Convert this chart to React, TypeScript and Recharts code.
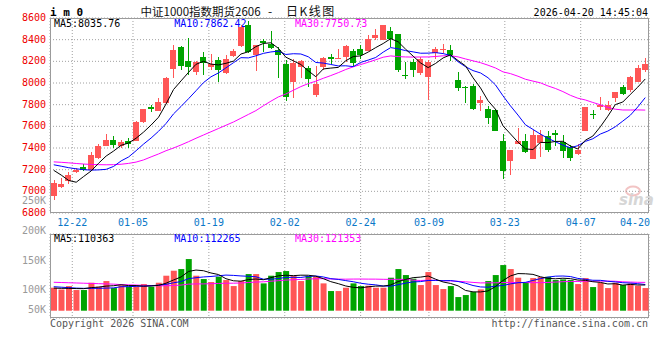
import React from 'react';
import { ComposedChart, Bar, Line, XAxis, YAxis, CartesianGrid, Cell } from 'recharts';

const dates = [
  '12-17', '12-18', '12-19', '12-22', '12-23', '12-24', '12-25', '12-26', '12-29', '12-30', '12-31',
  '01-05', '01-06', '01-07', '01-08', '01-09', '01-12', '01-13', '01-14', '01-15', '01-16',
  '01-19', '01-20', '01-21', '01-22', '01-23', '01-26', '01-27', '01-28', '01-29', '01-30',
  '02-02', '02-03', '02-04', '02-05', '02-06', '02-09', '02-10', '02-11', '02-12', '02-13',
  '02-24', '02-25', '02-26', '02-27', '03-02', '03-03', '03-04', '03-05', '03-06',
  '03-09', '03-10', '03-11', '03-12', '03-13', '03-16', '03-17', '03-18', '03-19', '03-20',
  '03-23', '03-24', '03-25', '03-26', '03-27', '03-30', '03-31', '04-01', '04-02', '04-03',
  '04-07', '04-08', '04-09', '04-10', '04-13', '04-14', '04-15', '04-16', '04-17', '04-20',
];

const opens = [
  6959, 7038, 7096, 7179, 7225, 7197, 7310, 7414, 7478, 7423,
  7469, 7469, 7640, 7780, 7737, 7811, 8127, 8333, 8202, 8104,
  8244, 8150, 8211, 8095, 8250, 8339, 8537, 8256, 8388, 8363,
  8308, 8180, 8012, 8150, 8140, 7890, 8150, 8238, 8223, 8241,
  8293, 8318, 8296, 8415, 8394, 8476, 8449, 8073, 8195, 8089,
  8058, 8278, 8302, 8302, 8028, 7966, 7973, 7814, 7759, 7750,
  7463, 7280, 7441, 7463, 7295, 7447, 7515, 7539, 7457, 7408,
  7347, 7554, 7716, 7777, 7753, 7866, 7966, 7936, 8012, 8119,
];
const highs = [
  7106, 7127, 7182, 7212, 7249, 7362, 7441, 7533, 7509, 7478,
  7493, 7652, 7762, 7799, 7860, 8058, 8348, 8339, 8418, 8202,
  8287, 8272, 8241, 8263, 8318, 8531, 8570, 8354, 8409, 8476,
  8333, 8211, 8226, 8211, 8156, 8156, 8241, 8272, 8318, 8348,
  8318, 8354, 8446, 8495, 8537, 8513, 8455, 8195, 8217, 8241,
  8211, 8333, 8363, 8348, 8098, 7973, 7991, 7881, 7789, 7759,
  7530, 7386, 7581, 7530, 7570, 7570, 7554, 7570, 7518, 7432,
  7438, 7780, 7753, 7875, 7835, 7915, 7982, 8064, 8165, 8232,
];
const lows = [
  6922, 7029, 7066, 7170, 7188, 7188, 7301, 7414, 7402, 7402,
  7402, 7463, 7634, 7731, 7737, 7805, 8048, 8119, 8074, 8070,
  8073, 8119, 8012, 8082, 8241, 8333, 8281, 8110, 8287, 8318,
  8049, 7835, 7866, 8049, 7966, 7875, 8119, 8180, 8223, 8195,
  8159, 8220, 8293, 8394, 8394, 8333, 8104, 8034, 8058, 8073,
  7844, 8226, 8281, 8202, 7927, 7814, 7753, 7737, 7622, 7554,
  7112, 7148, 7441, 7355, 7295, 7316, 7362, 7423, 7304, 7280,
  7334, 7554, 7670, 7753, 7744, 7823, 7890, 7921, 8012, 8098,
];
const closes = [
  7075, 7066, 7148, 7200, 7197, 7331, 7423, 7478, 7432, 7460,
  7438, 7643, 7762, 7756, 7823, 8049, 8309, 8159, 8150, 8195,
  8189, 8180, 8119, 8226, 8296, 8516, 8287, 8354, 8372, 8327,
  8263, 7875, 8186, 8202, 8037, 7991, 8232, 8226, 8235, 8342,
  8186, 8263, 8403, 8440, 8531, 8409, 8119, 8061, 8119, 8217,
  8195, 8311, 8315, 8263, 7951, 7951, 7762, 7844, 7676, 7554,
  7188, 7386, 7466, 7365, 7524, 7518, 7377, 7518, 7371, 7310,
  7380, 7780, 7710, 7799, 7799, 7915, 7899, 8058, 8140, 8174,
];

const ma5 = [
  7194, 7150, 7100, 7084, 7137.2, 7188.4, 7259.8, 7325.8, 7372.2, 7424.8,
  7446.2, 7490.2, 7547, 7611.8, 7684.4, 7806.6, 7939.8, 8019.2, 8098, 8172.4,
  8200.4, 8174.6, 8166.6, 8181.8, 8202, 8267.4, 8288.8, 8335.8, 8365, 8371.2,
  8320.6, 8238.2, 8204.6, 8170.6, 8112.6, 8058.2, 8129.6, 8137.6, 8144.2, 8205.2,
  8244.2, 8250.4, 8285.8, 8326.8, 8364.6, 8409.2, 8380.4, 8312, 8247.8, 8185,
  8142.2, 8180.6, 8231.4, 8260.2, 8207, 8158.2, 8048.4, 7954.2, 7836.8, 7757.4,
  7604.8, 7529.6, 7454, 7391.8, 7385.8, 7451.8, 7450, 7460.4, 7461.6, 7418.8,
  7391.2, 7471.8, 7510.2, 7595.8, 7693.6, 7800.6, 7824.4, 7894, 7962.2, 8037.2,
];
const ma10 = [
  7245, 7232, 7218, 7208, 7200, 7196, 7198, 7203, 7230, 7281,
  7317.3, 7375, 7436.4, 7492, 7554.6, 7626.4, 7715, 7783.1, 7854.9, 7928.4,
  8003.5, 8057.2, 8092.9, 8139.9, 8187.2, 8233.9, 8231.7, 8251.2, 8273.4, 8286.6,
  8294, 8263.5, 8270.2, 8267.8, 8241.9, 8189.4, 8183.9, 8171.1, 8157.4, 8158.9,
  8151.2, 8190, 8211.7, 8235.5, 8284.9, 8326.7, 8315.4, 8298.9, 8287.3, 8274.8,
  8275.7, 8280.5, 8271.7, 8254, 8196, 8150.2, 8114.5, 8092.8, 8048.5, 7982.2,
  7881.5, 7789, 7704.1, 7614.3, 7571.6, 7528.3, 7489.8, 7457.2, 7426.7, 7402.3,
  7421.5, 7460.9, 7485.3, 7528.7, 7556.2, 7595.9, 7648.1, 7702.1, 7779, 7865.4,
];
const ma30 = [
  7272, 7268, 7263, 7257, 7252, 7248, 7246, 7245, 7246, 7250,
  7258, 7270, 7290, 7318, 7345, 7375, 7400, 7428, 7458, 7490,
  7520, 7550, 7580, 7610, 7640, 7675, 7710, 7745, 7790, 7832,
  7871.6, 7898.6, 7933.2, 7966.6, 7994.6, 8016.6, 8043.5, 8068.5, 8095.2, 8124.6,
  8149.6, 8170.2, 8191.6, 8214.4, 8238, 8250, 8243.7, 8240.4, 8239.4, 8240.1,
  8240.3, 8244.7, 8251.2, 8252.4, 8240.9, 8222.1, 8204.6, 8187.6, 8164.4, 8138.6,
  8102.8, 8086.5, 8062.5, 8034.6, 8017.5, 8001.7, 7973.2, 7949.6, 7920.8, 7886.4,
  7859.6, 7843.5, 7820.4, 7799, 7774.6, 7758.1, 7750.8, 7750.7, 7751.4, 7750,
];

const volumes = [
  98700, 91500, 105800, 88700, 88700, 120100, 103000, 127300, 97200, 108700,
  103000, 103000, 114400, 103000, 120100, 150200, 171600, 178800, 221700, 150200,
  135900, 123000, 145900, 131600, 105800, 127300, 157300, 157300, 117300, 150200,
  165900, 170200, 148700, 127300, 148700, 145900, 117300, 84400, 84400, 98700,
  117300, 105800, 107300, 98700, 98700, 141600, 178800, 153000, 137300, 110100,
  165900, 110100, 93000, 105800, 58600, 67200, 80100, 91500, 127300, 153000,
  195900, 178800, 141600, 123000, 140100, 144400, 145900, 131600, 134400, 131600,
  114400, 140100, 101500, 120100, 97200, 120100, 110100, 117300, 107300, 97200,
];
const volMa5 = [
  97000, 96000, 96000, 95000, 94700, 99000, 101300, 105600, 107300, 111300,
  107800, 107800, 105300, 106400, 108700, 118100, 131900, 144700, 168500, 174500,
  171600, 161900, 155300, 137300, 128400, 126700, 133600, 135900, 133000, 141900,
  149600, 152200, 150500, 152500, 152200, 148200, 137600, 124700, 116100, 106100,
  100400, 98100, 102700, 105600, 105600, 110400, 125000, 134200, 141900, 144200,
  149000, 135300, 123300, 117000, 106700, 86900, 80900, 80600, 84900, 103800,
  129600, 149300, 159300, 158500, 155900, 145600, 139000, 137000, 139300, 137600,
  131600, 130400, 124400, 121500, 114700, 115800, 109800, 113000, 110400, 110400,
];
const volMa10 = [
  103000, 101000, 99000, 97000, 96000, 96000, 96000, 97000, 98000, 103000,
  103400, 104600, 105400, 106800, 110000, 113000, 119900, 125000, 137500, 141600,
  144900, 146900, 150000, 152900, 151500, 149200, 147800, 145600, 135200, 135200,
  138200, 142900, 143200, 142700, 147000, 148900, 144900, 137600, 134300, 129200,
  124300, 117900, 113700, 110900, 105900, 105400, 111600, 118400, 123700, 124900,
  129700, 130200, 128700, 129400, 125400, 118000, 108100, 102000, 101000, 105300,
  108300, 115100, 120000, 121700, 129900, 137600, 144200, 148200, 148900, 146700,
  138600, 134700, 130700, 130400, 126100, 123700, 120100, 118700, 116000, 112500,
];
const volMa30 = [
  122000, 121000, 120000, 119000, 118000, 117000, 116000, 115000, 114000, 112000,
  111000, 110000, 109000, 108000, 107000, 107000, 108000, 110000, 114000, 115000,
  115000, 116000, 117000, 118000, 118000, 119000, 121000, 123000, 124000, 126600,
  128800, 131400, 132900, 134200, 136200, 137000, 137500, 136100, 135600, 135300,
  135800, 135900, 135600, 135500, 134800, 134500, 134700, 133900, 131100, 129700,
  130700, 130300, 128500, 127700, 126100, 124100, 121500, 119300, 119700, 119800,
  120800, 121000, 120800, 120700, 120400, 120300, 121300, 122900, 124500, 125600,
  125500, 126700, 126500, 127200, 127100, 126400, 124100, 122900, 121900, 121500,
];

const priceTicks = [6800, 7000, 7200, 7400, 7600, 7800, 8000, 8200, 8400, 8600];
const labelDates = ['12-22', '01-05', '01-19', '02-02', '02-24', '03-09', '03-23', '04-07', '04-20'];
const volLabels = ['250K', '200K', '150K', '100K', '50K'];

const RED = '#ff5656';
const GREEN = '#00a400';
const MONO = '"DejaVu Sans Mono", "Liberation Mono", monospace';

const labelIdx = labelDates.map((d) => dates.indexOf(d));
// the site's date grid runs on a slightly wider step than the candles
const gridDomain = [0.065, 79];

const rows = dates.map((date, i) => ({
  idx: i,
  date,
  open: opens[i],
  high: highs[i],
  low: lows[i],
  close: closes[i],
  range: [lows[i], highs[i]],
  ma5: ma5[i],
  ma10: ma10[i],
  ma30: ma30[i],
  vol: volumes[i],
  vma5: volMa5[i],
  vma10: volMa10[i],
  vma30: volMa30[i],
}));

const Candle = (props: any) => {
  const { x, y, width, height, payload } = props;
  if (!payload) return null;
  const { open, close, high, low } = payload;
  const color = close >= open ? RED : GREEN;
  let top = y;
  let h = height;
  if (h < 0) { top = y + h; h = -h; }
  const k = high > low ? h / (high - low) : 0;
  const yO = top + (high - open) * k;
  const yC = top + (high - close) * k;
  const c = Math.floor(x + width / 2);
  const bodyTop = Math.min(yO, yC);
  const bodyH = Math.max(1, Math.abs(yO - yC));
  return (
    <g shapeRendering="crispEdges">
      <rect x={c} y={top} width={1} height={h} fill={color} />
      <rect x={c - 3} y={bodyTop} width={6} height={bodyH} fill={color} />
    </g>
  );
};

const PriceTick = (props: any) => (
  <text x={46} y={props.y} dy={3} textAnchor="end" fill="#ee0000" fontSize={10} fontFamily={MONO}>
    {props.payload.value}
  </text>
);

const DateTick = (props: any) => {
  const i = props.payload.value;
  const last = i === dates.length - 1;
  return (
    <text x={last ? 650 : props.x} y={226} textAnchor={last ? 'end' : 'middle'} fill="#0a78c8" fontSize={10} fontFamily={MONO}>
      {dates[i]}
    </text>
  );
};

function Overlay() {
  const volY = [204, 233.5, 264, 293.3, 313.3];
  return (
    <svg width={660} height={360} style={{ position: 'absolute', left: 0, top: 0 }}>
      <rect x={50.5} y={18.5} width={598} height={194} fill="none" stroke="#9a9a9a" />
      <rect x={50.5} y={234.5} width={598} height={83} fill="none" stroke="#9a9a9a" />
      <text x={50} y={16} fontSize={11} fontWeight="bold" fontFamily={MONO} fill="#000">i m 0</text>
      <text y={15.5} fontFamily='"Noto Sans CJK SC", sans-serif' fill="#111">
        <tspan x={140.5} fontSize={11.5}>中证1000指数期货2606</tspan>
        <tspan x={268} fontSize={12}>-</tspan>
        <tspan x={286} fontSize={12} letterSpacing={1.5}>日K线图</tspan>
      </text>
      <text x={648} y={15.7} fontSize={10} fontFamily={MONO} textAnchor="end" fill="#000">2026-04-20 14:45:04</text>
      <text x={54} y={27.3} fontSize={10} fontFamily={MONO} fill="#000">MA5:8035.76</text>
      <text x={174.3} y={27.3} fontSize={10} fontFamily={MONO} fill="#0000ff">MA10:7862.42</text>
      <text x={295} y={27.3} fontSize={10} fontFamily={MONO} fill="#ff00ff">MA30:7750.73</text>
      <text x={54} y={241.7} fontSize={10} fontFamily={MONO} fill="#000">MA5:110363</text>
      <text x={174.3} y={241.7} fontSize={10} fontFamily={MONO} fill="#0000ff">MA10:112265</text>
      <text x={295} y={241.7} fontSize={10} fontFamily={MONO} fill="#ff00ff">MA30:121353</text>
      {volLabels.map((t, i) => (
        <text key={t} x={46} y={volY[i]} fontSize={10} fontFamily={MONO} textAnchor="end" fill="#999">{t}</text>
      ))}
      <text x={50} y={327} fontSize={10} fontFamily={MONO} fill="#555">Copyright 2026 SINA.COM</text>
      <text x={648} y={327} fontSize={10} fontFamily={MONO} textAnchor="end" fill="#555">http://finance.sina.com.cn</text>
      <ellipse cx={633} cy={191} rx={7} ry={4.5} fill="none" stroke="#f2c4c4" strokeWidth={2} />
      <text x={619} y={205} fontSize={15} fontStyle="italic" fontWeight="bold" fontFamily="DejaVu Sans" fill="#d6d6d6">sina</text>
    </svg>
  );
}

export default function App() {
  return (
    <div style={{ position: 'absolute', left: 0, top: 0, width: 660, height: 360, background: '#fff', overflow: 'hidden' }}>
      <Overlay />
      <div style={{ position: 'absolute', left: 0, top: 0 }}>
        <ComposedChart width={660} height={230} data={rows} margin={{ top: 18, right: 11, bottom: 0, left: 0 }}>
          <XAxis dataKey="date" hide />
          <XAxis
            xAxisId="t" dataKey="idx" type="number" domain={gridDomain} allowDataOverflow
            ticks={labelIdx} interval={0} height={17} axisLine={false} tickLine={false}
            tick={(p: any) => <DateTick {...p} />}
          />
          <YAxis domain={[6800, 8600]} ticks={priceTicks} interval={0} width={50} axisLine={false} tickLine={false} tick={(p: any) => <PriceTick {...p} />} />
          <CartesianGrid xAxisId="t" stroke="#a0a0a0" strokeDasharray="1 2" />
          <Bar dataKey="range" barSize={6} shape={(p: any) => <Candle {...p} />} isAnimationActive={false} />
          <Line dataKey="ma30" stroke="#ff00ff" strokeWidth={1} dot={false} isAnimationActive={false} />
          <Line dataKey="ma10" stroke="#0000ff" strokeWidth={1} dot={false} isAnimationActive={false} />
          <Line dataKey="ma5" stroke="#000000" strokeWidth={1} dot={false} isAnimationActive={false} />
        </ComposedChart>
      </div>
      <div style={{ position: 'absolute', left: 0, top: 220 }}>
        <ComposedChart width={660} height={100} data={rows} margin={{ top: 14, right: 11, bottom: 2, left: 50 }}>
          <XAxis dataKey="date" hide />
          <XAxis xAxisId="t" dataKey="idx" type="number" domain={gridDomain} allowDataOverflow ticks={labelIdx} interval={0} hide />
          <YAxis domain={[-31300, 329200]} allowDataOverflow hide />
          <YAxis yAxisId="g" domain={[0, 4]} ticks={[1, 2, 3]} hide />
          <CartesianGrid xAxisId="t" yAxisId="g" stroke="#a0a0a0" strokeDasharray="1 2" />
          <Bar dataKey="vol" barSize={6} isAnimationActive={false}>
            {rows.map((r) => (
              <Cell key={r.date} fill={r.close >= r.open ? RED : GREEN} />
            ))}
          </Bar>
          <Line dataKey="vma30" stroke="#ff00ff" strokeWidth={1} dot={false} isAnimationActive={false} />
          <Line dataKey="vma10" stroke="#0000ff" strokeWidth={1} dot={false} isAnimationActive={false} />
          <Line dataKey="vma5" stroke="#000000" strokeWidth={1} dot={false} isAnimationActive={false} />
        </ComposedChart>
      </div>
    </div>
  );
}
